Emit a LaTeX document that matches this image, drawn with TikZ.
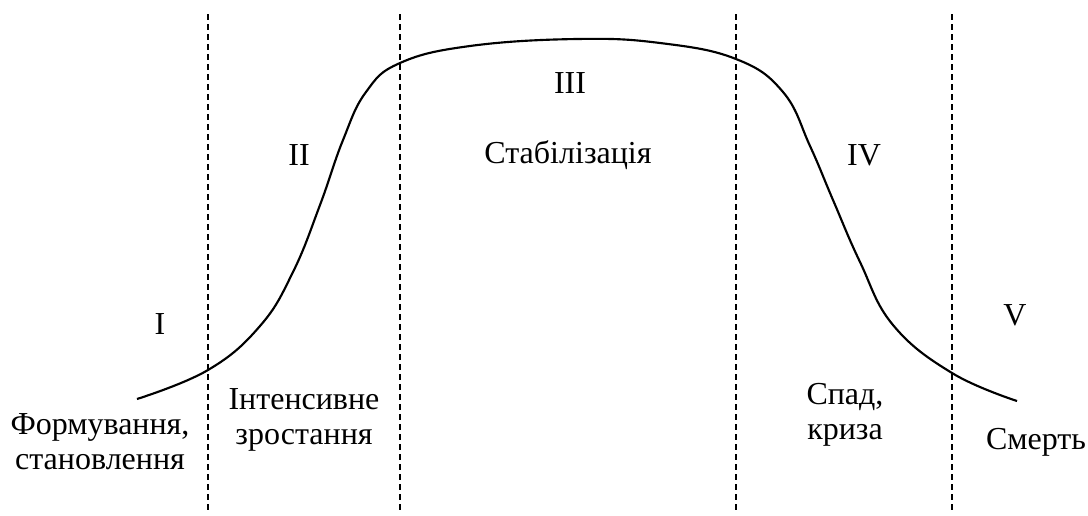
\documentclass[tikz,border=0pt]{standalone}
\usepackage{fontspec}
\setmainfont{Liberation Serif}
\begin{document}
\begin{tikzpicture}[x=0.75pt,y=-0.75pt,
  divider/.style={line width=1.4pt, dash pattern=on 4.5pt off 3pt},
  curveline/.style={line width=1.6pt},
  lbl/.style={font=\fontsize{24}{26}\selectfont, align=center, inner sep=0pt}]
\useasboundingbox (0,0) rectangle (1088,515);
% dividers
\coordinate (d1t) at (208,14); \coordinate (d1b) at (208,513);
\coordinate (d2t) at (400,14); \coordinate (d2b) at (400,513);
\coordinate (d3t) at (736,14); \coordinate (d3b) at (736,513);
\coordinate (d4t) at (952,14); \coordinate (d4b) at (952,513);
\draw[divider] (d1t) -- (d1b);
\draw[divider] (d2t) -- (d2b);
\draw[divider] (d3t) -- (d3b);
\draw[divider] (d4t) -- (d4b);
% life curve
\draw[curveline] plot[smooth, tension=0.7] coordinates {
 (137,399) (208,370) (260,326) (293,272) (320,205) (343,140) (366,92)
 (400,63) (470,46) (577,39) (660,43) (736,59) (783,92) (810,146)
 (833,200) (860,262) (893,325) (952,373) (1017,401)};
% stage numbers
\node[lbl] (n1) at (160,324) {I};
\node[lbl] (n2) at (299,155) {II};
\node[lbl] (n3) at (570,83) {III};
\node[lbl] (n4) at (864,155) {IV};
\node[lbl] (n5) at (1015,315) {V};
% stage names
\node[lbl] (s1) at (100,442) {Формування,\\становлення};
\node[lbl] (s2) at (304,420) {Інтенсивне\\зростання};
\node[lbl] (s3) at (568,155) {Стабілізація};
\node[lbl] (s4) at (845,415) {Спад,\\криза};
\node[lbl] (s5) at (1036,442) {Смерть};
\end{tikzpicture}
\end{document}
